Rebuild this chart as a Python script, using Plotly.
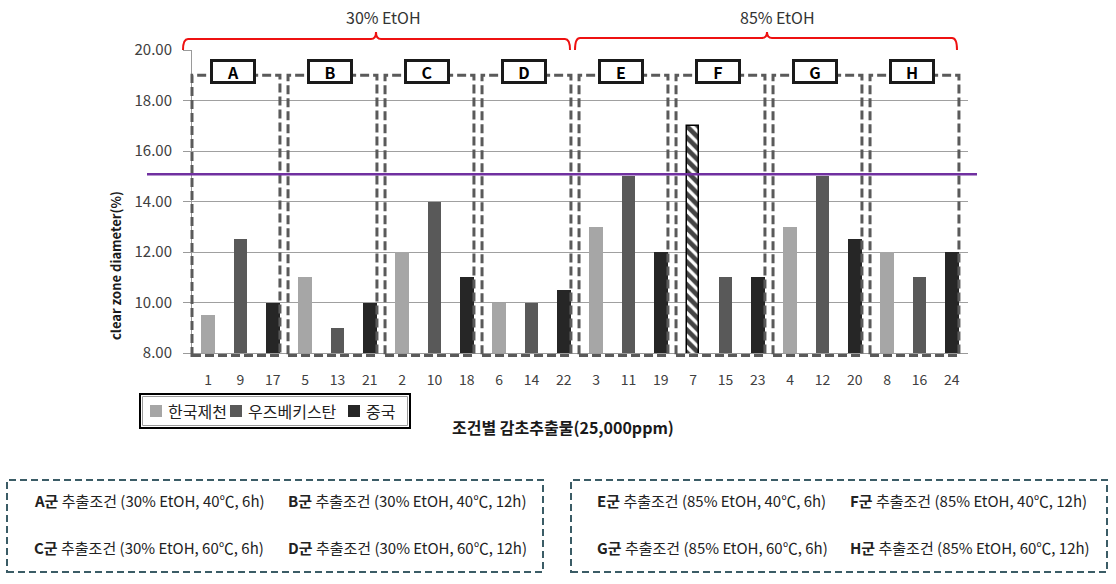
import plotly.graph_objects as go

# ---------------- data ----------------
x_labels = ['1', '9', '17', '5', '13', '21', '2', '10', '18', '6', '14', '22',
            '3', '11', '19', '7', '15', '23', '4', '12', '20', '8', '16', '24']
group_names = ['A', 'B', 'C', 'D', 'E', 'F', 'G', 'H']

korea_samples = [1, 2, 3, 4, 5, 6, 7, 8]
korea_values = [9.5, 12, 13, 13, 11, 10, 17, 12]
uzbek_samples = [9, 10, 11, 12, 13, 14, 15, 16]
uzbek_values = [12.5, 14, 15, 15, 9, 10, 11, 11]
china_samples = [17, 18, 19, 20, 21, 22, 23, 24]
china_values = [10, 11, 12, 12.5, 10, 10.5, 11, 12]
hatched_samples = [7]
reference_value = 15.08

series_names = ['한국제천', '우즈베키스탄', '중국']
y_ticks = [8, 10, 12, 14, 16, 18, 20]

conditions_left = [('A군', ' 추출조건 (30% EtOH, 40℃, 6h)'), ('B군', ' 추출조건 (30% EtOH, 40℃, 12h)'),
                   ('C군', ' 추출조건 (30% EtOH, 60℃, 6h)'), ('D군', ' 추출조건 (30% EtOH, 60℃, 12h)')]
conditions_right = [('E군', ' 추출조건 (85% EtOH, 40℃, 6h)'), ('F군', ' 추출조건 (85% EtOH, 40℃, 12h)'),
                    ('G군', ' 추출조건 (85% EtOH, 60℃, 6h)'), ('H군', ' 추출조건 (85% EtOH, 60℃, 12h)')]
brace_labels = ['30% EtOH', '85% EtOH']

# ---------------- layout constants ----------------
W, H = 1116, 584
L, R, T, B = 192, 968, 50, 353
PW, PH = R - L, B - T
YMIN, YMAX = 8, 20
NCAT = len(x_labels)
FONT = 'Noto Sans CJK KR, Noto Sans, sans-serif'


def px(x):
    return (x - L) / PW


def py(y):
    return (B - y) / PH


def xd(i):  # category index -> x domain fraction
    return (i + 0.5) / NCAT


def yd(v):  # value -> y domain fraction
    return (v - YMIN) / (YMAX - YMIN)


colors = ['#a6a6a6', '#595959', '#262626']

fig = go.Figure()
for name, samples, values, col in zip(series_names,
                                      [korea_samples, uzbek_samples, china_samples],
                                      [korea_values, uzbek_values, china_values], colors):
    hat = [s in hatched_samples for s in samples]
    fig.add_trace(go.Bar(
        x=[str(s) for s in samples], y=values, name=name, showlegend=False,
        width=[0.36 if h else 0.43 for h in hat],
        marker=dict(
            color=['white' if h else col for h in hat],
            line=dict(color=['black' if h else col for h in hat],
                      width=[1.5 if h else 0 for h in hat]),
            pattern=dict(shape=['\\' if h else '' for h in hat],
                         fgcolor='black', fgopacity=1, size=8, solidity=0.6,
                         fillmode='overlay'),
        ),
    ))

shapes = []
annotations = []


def ann(**kw):
    kw.setdefault('xanchor', 'center')
    kw.setdefault('yanchor', 'middle')
    kw.setdefault('showarrow', False)
    annotations.append(kw)


# dashed group boxes and group labels
for g, gname in enumerate(group_names):
    i0 = 3 * g
    shapes.append(dict(type='rect', xref='x domain', yref='y domain',
                       x0=xd(i0 - 0.5 if g == 0 else i0 - 0.53), x1=xd(i0 + 2.22),
                       y0=yd(7.9), y1=yd(19.0),
                       line=dict(color='#5a5a5a', width=3, dash='9px,4px'), layer='above'))
    ann(xref='x domain', yref='y domain', x=xd(i0 + 0.78), y=yd(19.15),
        text='<b>%s</b>' % gname,
        font=dict(size=16, color='black', family=FONT),
        bgcolor='white', bordercolor='#1a1a1a', borderwidth=3,
        borderpad=1, width=38, height=17)

# reference (purple) line
shapes.append(dict(type='line', xref='paper', yref='y domain',
                   x0=px(147), x1=px(977), y0=yd(reference_value), y1=yd(reference_value),
                   line=dict(color='#7030a0', width=2.5), layer='above'))

# red braces
for (x0, x1, xc, yl), lab, lx in zip([(183, 570, 376, 39), (575, 957, 767, 38)], brace_labels, [383, 777]):
    yb, yt, r = 50, 32, 5
    path = ('M {a},{b} Q {a},{c} {d},{c} L {e},{c} Q {f},{c} {f},{g} Q {f},{c} {h},{c} '
            'L {i},{c} Q {j},{c} {j},{b}').format(
        a=px(x0), b=py(yb), c=py(yl), d=px(x0 + r), e=px(xc - r), f=px(xc), g=py(yt),
        h=px(xc + r), i=px(x1 - r), j=px(x1))
    shapes.append(dict(type='path', xref='paper', yref='paper', path=path,
                       line=dict(color='#ee1111', width=2)))
    ann(xref='paper', yref='paper', x=px(lx), y=py(17), text=lab,
        font=dict(size=16, color='#333333', family=FONT))

# axis titles
ann(xref='paper', yref='paper', x=px(115), y=py(266),
    text='<b>clear zone diameter(%)</b>', textangle=-90,
    font=dict(size=13, color='#1a1a1a', family=FONT))
ann(xref='paper', yref='paper', x=px(563), y=py(427),
    text='<b>조건별 감초추출물(25,000ppm)</b>',
    font=dict(size=16, color='#1a1a1a', family=FONT))

# manual legend
shapes.append(dict(type='rect', xref='paper', yref='paper',
                   x0=px(140), x1=px(410), y0=py(428), y1=py(394),
                   line=dict(color='black', width=2)))
shapes.append(dict(type='rect', xref='paper', yref='paper',
                   x0=px(142.5), x1=px(407.5), y0=py(425.5), y1=py(396.5),
                   line=dict(color='#9a9a9a', width=1)))
for name, col, sx in zip(series_names, colors, [150, 230, 348]):
    shapes.append(dict(type='rect', xref='paper', yref='paper',
                       x0=px(sx), x1=px(sx + 12), y0=py(417), y1=py(405),
                       fillcolor=col, line=dict(width=0)))
    ann(xref='paper', yref='paper', x=px(sx + 16), y=py(411), xanchor='left',
        text=name, font=dict(size=16, color='#222222', family=FONT))

# condition boxes at bottom
for (bx0, bx1), conds, tx in zip([(7, 543), (571, 1107)], [conditions_left, conditions_right],
                                 [(32, 286), (595, 848)]):
    shapes.append(dict(type='rect', xref='paper', yref='paper',
                       x0=px(bx0), x1=px(bx1), y0=py(572), y1=py(480),
                       line=dict(color='#3b5c66', width=2, dash='7px,4px')))
    for k, (bold, rest) in enumerate(conds):
        ann(xref='paper', yref='paper', x=px(tx[k % 2]),
            y=py(500 if k < 2 else 547), xanchor='left',
            text='<b>%s</b>%s' % (bold, rest),
            font=dict(size=15, color='#222222', family=FONT))

fig.update_layout(
    width=W, height=H,
    margin=dict(l=L, r=W - R, t=T, b=H - B, pad=0),
    plot_bgcolor='white', paper_bgcolor='white',
    barmode='overlay', bargap=0,
    font=dict(family=FONT, color='#404040'),
    showlegend=False,
    xaxis=dict(type='category', categoryorder='array', categoryarray=x_labels,
               range=[-0.5, NCAT - 0.5], showgrid=False, showline=True,
               linecolor='#9a9a9a', linewidth=1, ticks='', ticklabelstandoff=14,
               tickfont=dict(size=14, color='#404040', family=FONT)),
    yaxis=dict(range=[YMIN, YMAX], tickvals=y_ticks, tickformat='.2f',
               showgrid=True, gridcolor='#a0a0a0', gridwidth=1, zeroline=False,
               showline=True, linecolor='#9a9a9a', linewidth=1,
               ticks='outside', ticklen=8, tickcolor='#9a9a9a', ticklabelstandoff=8,
               tickfont=dict(size=15, color='#404040', family=FONT)),
    shapes=shapes, annotations=annotations,
)

fig.write_html('out.html')
